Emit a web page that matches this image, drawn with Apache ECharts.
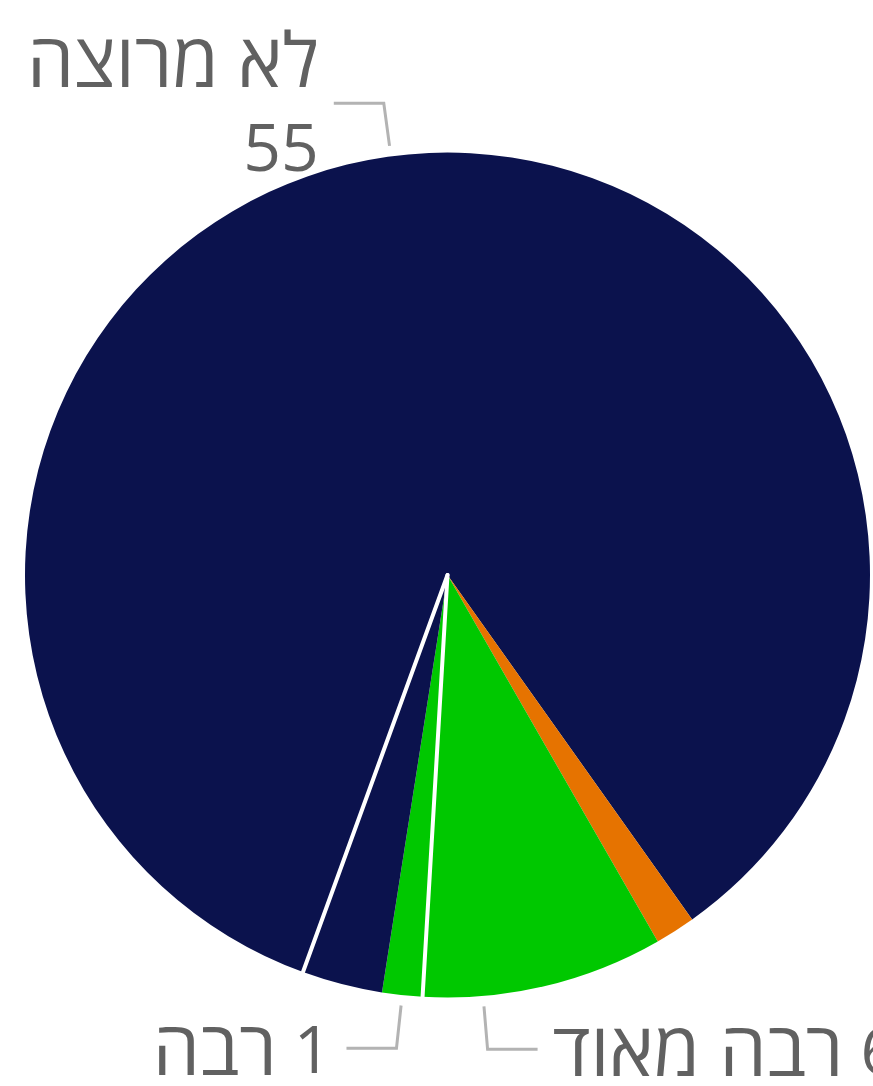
<!DOCTYPE html>
<html>
<head>
<meta charset="utf-8">
<script src="https://cdn.jsdelivr.net/npm/echarts@6/dist/echarts.min.js"></script>
<style>
  html, body { margin: 0; padding: 0; background: #fff; }
  #chart { width: 873px; height: 1086px; }
</style>
</head>
<body>
<div id="chart"></div>
<script>
// slices, clockwise from the start of the big one
const categories = ['לא מרוצה', 'מעט', 'רבה מאוד', 'בינוני', 'רבה', 'מעט מאוד', 'אחר'];
const values = [55, 1, 6, 0, 1, 2, 0];
const colors = ['#0b124d', '#e67300', '#00c800', '#ffffff', '#00c800', '#0b124d', '#ffffff'];
const showLabel = [true, false, true, false, true, false, false];
const wrapLabel = [true, false, false, false, false, false, false];

const chart = echarts.init(document.getElementById('chart'), null, { renderer: 'canvas' });

const center = [447.5, 575];
const base = {
  type: 'pie',
  center: center,
  startAngle: 250,
  clockwise: true,
  animation: false
};

// the "רבה מאוד" label sits a bit further round than its slice middle
const labelNudge = { 2: 8.4 };

function labelText(p) {
  const i = p.dataIndex;
  if (wrapLabel[i]) return '{h|' + p.name + '}\n{n|' + p.value + '}';
  return '{h|' + p.name + '}{n| ' + p.value + '}';
}

function nudgeLabel(p) {
  const deg = labelNudge[p.dataIndex];
  const pts = p.labelLinePoints;
  if (!deg || !pts) return {};
  const a = deg * Math.PI / 180;
  const rot = function (pt) {
    const x = pt[0] - center[0], y = pt[1] - center[1];
    return [center[0] + x * Math.cos(a) - y * Math.sin(a),
            center[1] + x * Math.sin(a) + y * Math.cos(a)];
  };
  const p1 = rot(pts[0]);
  const p2 = rot(pts[1]);
  const p3 = [p2[0] + (pts[2][0] - pts[1][0]), p2[1]];
  return {
    dx: p3[0] - pts[2][0],
    dy: p3[1] - pts[2][1],
    labelLinePoints: [p1, p2, p3]
  };
}

const textColor = '#616161';

const option = {
  backgroundColor: '#ffffff',
  series: [
    // coloured slices
    Object.assign({}, base, {
      radius: 422.5,
      label: { show: false },
      labelLine: { show: false },
      emphasis: { disabled: true },
      data: categories.map((name, i) => ({
        name: name,
        value: values[i],
        itemStyle: { color: colors[i] }
      }))
    }),
    // white separators for the empty categories
    Object.assign({}, base, {
      radius: 422.5,
      silent: true,
      label: { show: false },
      labelLine: { show: false },
      data: categories.map((name, i) => ({
        name: name,
        value: values[i],
        itemStyle: values[i] === 0
          ? { color: 'rgba(0,0,0,0)', borderColor: '#ffffff', borderWidth: 4 }
          : { color: 'rgba(0,0,0,0)', borderWidth: 0 }
      }))
    }),
    // labels, lines start a little off the rim
    Object.assign({}, base, {
      radius: 433,
      silent: true,
      avoidLabelOverlap: false,
      itemStyle: { color: 'rgba(0,0,0,0)', borderWidth: 0 },
      label: {
        show: true,
        formatter: labelText,
        overflow: 'none',
        distanceToLabelLine: 15,
        padding: [11, 0, 0, 0],
        rich: {
          h: { fontFamily: 'Open Sans', fontSize: 75, lineHeight: 86, color: textColor },
          n: { fontFamily: 'Open Sans', fontSize: 66, lineHeight: 86, color: textColor }
        }
      },
      labelLine: {
        show: true,
        length: 43,
        length2: 50,
        lineStyle: { color: '#b3b3b3', width: 3 }
      },
      labelLayout: nudgeLabel,
      data: categories.map((name, i) => ({
        name: name,
        value: values[i],
        label: { show: showLabel[i] },
        labelLine: { show: showLabel[i] }
      }))
    })
  ]
};

chart.setOption(option);
</script>
</body>
</html>
